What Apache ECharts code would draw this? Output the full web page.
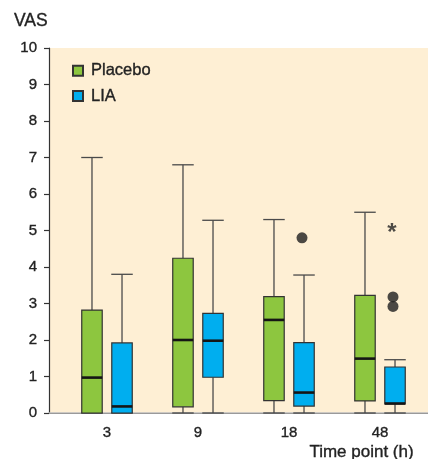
<!DOCTYPE html>
<html>
<head>
<meta charset="utf-8">
<script src="https://cdn.jsdelivr.net/npm/echarts@6/dist/echarts.min.js"></script>
<style>
html,body{margin:0;padding:0;background:#fff;}
#chart{width:428px;height:459px;}
</style>
</head>
<body>
<div id="chart"></div>
<script>
// ---- data ----
const categories = ['3', '9', '18', '48'];
const yTicks = [0, 1, 2, 3, 4, 5, 6, 7, 8, 9, 10];

const placeboMin = [0, 0, 0, 0];
const placeboQ1  = [0, 0.17, 0.34, 0.33];
const placeboMed = [0.97, 2.0, 2.55, 1.49];
const placeboQ3  = [2.82, 4.24, 3.19, 3.22];
const placeboMax = [7.0, 6.8, 5.3, 5.5];

const liaMin = [0, 0, 0, 0];
const liaQ1  = [0, 0.98, 0.19, 0.25];
const liaMed = [0.18, 1.98, 0.56, 0.26];
const liaQ3  = [1.92, 2.73, 1.93, 1.26];
const liaMax = [3.8, 5.28, 3.78, 1.46];

const liaOutliers = [[2, 4.8], [3, 3.18], [3, 2.92]];
const significance = [[3, 5.05]];
const significanceMark = '*';

// ---- build ----
const FONT = '"Liberation Sans", Arial, Helvetica, sans-serif';
const GREEN = '#8DC63F';
const BLUE = '#00AEEF';
const TXT = '#222';
const heavy = { textBorderColor: TXT, textBorderWidth: 0.35 };

function boxRows(mn, q1, md, q3, mx) {
  return categories.map((c, i) => [i, mn[i], q1[i], md[i], q3[i], mx[i]]);
}

function makeRender(offsetRatio, color) {
  return function (params, api) {
    const x = api.value(0);
    const pMin = api.coord([x, api.value(1)]);
    const pQ1 = api.coord([x, api.value(2)]);
    const pMed = api.coord([x, api.value(3)]);
    const pQ3 = api.coord([x, api.value(4)]);
    const pMax = api.coord([x, api.value(5)]);
    const band = api.size([1, 0])[0];
    const cx = pMin[0] + band * offsetRatio;
    const w = band * 0.225;
    const wl = { stroke: '#4a4a4a', lineWidth: 1.3 };
    return {
      type: 'group',
      children: [
        { type: 'line', shape: { x1: cx, y1: pMax[1], x2: cx, y2: pQ3[1] }, style: wl },
        { type: 'line', shape: { x1: cx, y1: pQ1[1], x2: cx, y2: pMin[1] }, style: wl },
        { type: 'line', shape: { x1: cx - w / 2 * 1.05, y1: pMax[1], x2: cx + w / 2 * 1.05, y2: pMax[1] }, style: wl },
        { type: 'line', shape: { x1: cx - w / 2 * 1.05, y1: pMin[1], x2: cx + w / 2 * 1.05, y2: pMin[1] }, style: wl },
        { type: 'rect', shape: { x: cx - w / 2, y: pQ3[1], width: w, height: pQ1[1] - pQ3[1] },
          style: { fill: color, stroke: '#333', lineWidth: 1.2 } },
        { type: 'line', shape: { x1: cx - w / 2, y1: pMed[1], x2: cx + w / 2, y2: pMed[1] },
          style: { stroke: '#151515', lineWidth: 2.6 } }
      ]
    };
  };
}

const chart = echarts.init(document.getElementById('chart'), null, { renderer: 'canvas' });

chart.setOption({
  animation: false,
  backgroundColor: '#ffffff',
  textStyle: { fontFamily: FONT },
  title: [
    { text: 'VAS', left: 9, top: 7, textStyle: Object.assign({ fontFamily: FONT, fontSize: 17.5, fontWeight: 'normal', color: TXT }, heavy) },
    { text: 'Time point (h)', right: 9, top: 439, textStyle: Object.assign({ fontFamily: FONT, fontSize: 17, fontWeight: 'normal', color: TXT }, heavy) }
  ],
  legend: {
    orient: 'vertical',
    left: 72,
    top: 62,
    padding: 0,
    itemWidth: 10,
    itemHeight: 10,
    itemGap: 8,
    icon: 'rect',
    textStyle: Object.assign({ fontFamily: FONT, fontSize: 16.5, color: TXT, padding: [0, 0, 0, 3] }, heavy),
    data: ['Placebo', 'LIA']
  },
  grid: [
    { left: 49, right: 0, top: 48, bottom: 46, show: true, backgroundColor: '#FEEFD4', borderWidth: 0 },
    { left: 61.5, right: 2.5, top: 48, bottom: 46, show: false }
  ],
  xAxis: [
    { gridIndex: 0, type: 'value', min: 0, max: 1, position: 'bottom',
      axisLine: { show: true, onZero: false, lineStyle: { color: '#333', width: 1.2 } },
      axisTick: { show: false }, axisLabel: { show: false }, splitLine: { show: false } },
    { gridIndex: 0, type: 'value', min: 0, max: 1, position: 'top',
      axisLine: { show: true, lineStyle: { color: '#bdbdbd', width: 1.5 } },
      axisTick: { show: false }, axisLabel: { show: false }, splitLine: { show: false } },
    { gridIndex: 1, type: 'category', data: categories, boundaryGap: true,
      axisLine: { show: false }, axisTick: { show: false }, splitLine: { show: false },
      axisLabel: Object.assign({ fontFamily: FONT, fontSize: 15, color: TXT, margin: 12 }, heavy) }
  ],
  yAxis: [
    { gridIndex: 0, type: 'value', min: 0, max: 10, interval: 1,
      axisLine: { show: true, lineStyle: { color: '#333', width: 1.2 } },
      axisTick: { show: true, length: 5, lineStyle: { color: '#333', width: 1.2 } },
      axisLabel: Object.assign({ fontFamily: FONT, fontSize: 15, color: TXT, margin: 12,
        customValues: yTicks }, heavy),
      splitLine: { show: false } },
    { gridIndex: 1, type: 'value', min: 0, max: 10, interval: 1, show: false }
  ],
  series: [
    { name: 'Placebo', type: 'custom', xAxisIndex: 2, yAxisIndex: 1,
      itemStyle: { color: GREEN, borderColor: '#333', borderWidth: 1 },
      encode: { x: 0, y: [1, 2, 3, 4, 5] },
      renderItem: makeRender(-0.165, GREEN),
      data: boxRows(placeboMin, placeboQ1, placeboMed, placeboQ3, placeboMax) },
    { name: 'LIA', type: 'custom', xAxisIndex: 2, yAxisIndex: 1,
      itemStyle: { color: BLUE, borderColor: '#333', borderWidth: 1 },
      encode: { x: 0, y: [1, 2, 3, 4, 5] },
      renderItem: makeRender(0.165, BLUE),
      data: boxRows(liaMin, liaQ1, liaMed, liaQ3, liaMax) },
    { name: 'LIA outliers', type: 'scatter', xAxisIndex: 2, yAxisIndex: 1,
      symbol: 'circle', symbolSize: 11, symbolOffset: [13, 0],
      itemStyle: { color: '#1e1e1e' }, data: liaOutliers },
    { name: 'sig', type: 'scatter', xAxisIndex: 2, yAxisIndex: 1,
      symbol: 'circle', symbolSize: 1, symbolOffset: [12, 0],
      itemStyle: { color: 'rgba(0,0,0,0)' },
      label: { show: true, position: 'inside', offset: [0, 5], formatter: significanceMark,
        fontFamily: FONT, fontSize: 24, fontWeight: 'bold', color: TXT },
      data: significance }
  ]
});
</script>
</body>
</html>
